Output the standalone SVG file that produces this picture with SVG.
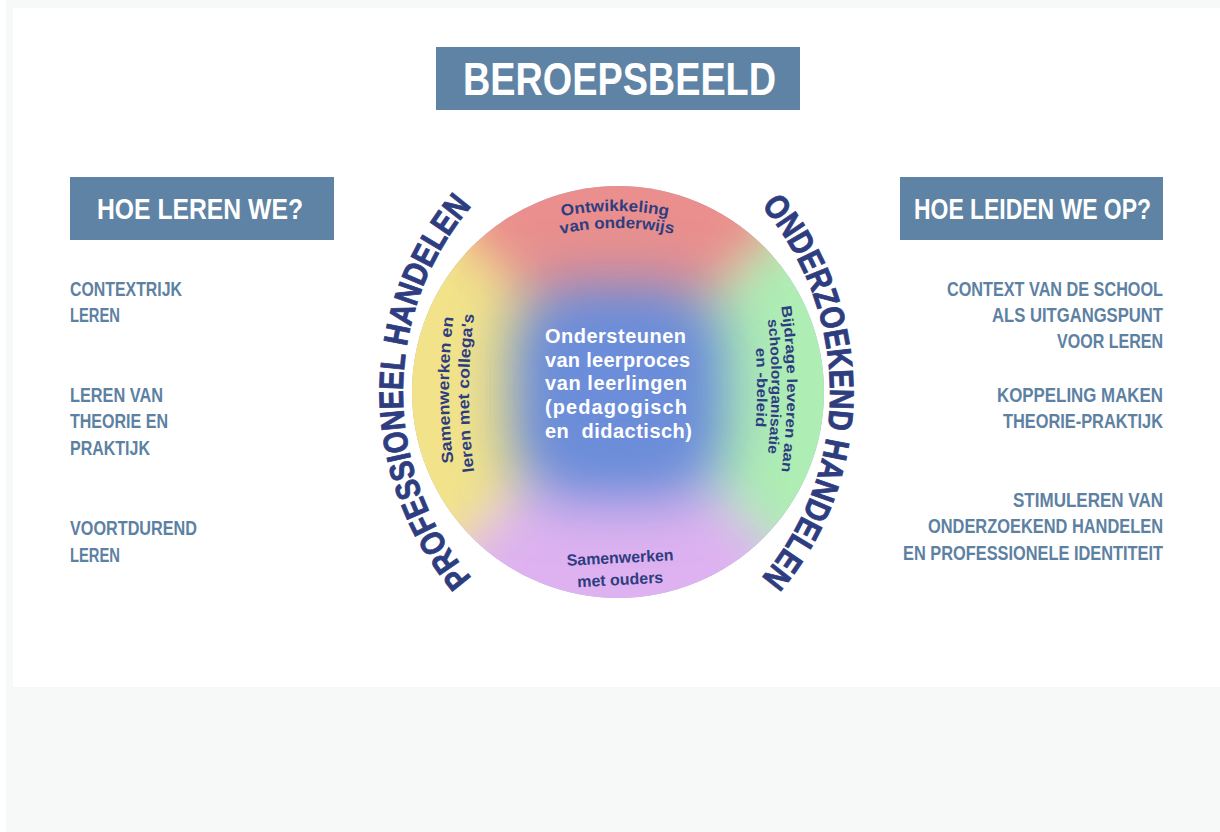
<svg xmlns="http://www.w3.org/2000/svg" xmlns:xlink="http://www.w3.org/1999/xlink" width="1220" height="832" viewBox="0 0 1220 832">
<style>
.f{font-family:"Liberation Sans",Arial,sans-serif;font-weight:700}
.hdr{fill:#ffffff}
.box{fill:#5f83a4}
.item{fill:#5d81a2;font-size:19.5px}
.navy{fill:#2e3d80}
.lbl{font-size:16px}
.lbs{font-size:14.5px}
.arc{font-size:34px;stroke:#2e3d80;stroke-width:0.9px}
.ctr{fill:#ffffff;font-size:20px}
</style>
<defs>
<clipPath id="cc"><circle cx="618" cy="392" r="206"/></clipPath>
<filter id="soft" x="-50%" y="-50%" width="200%" height="200%"><feGaussianBlur stdDeviation="24"/></filter>
<filter id="softer" x="-80%" y="-80%" width="260%" height="260%"><feGaussianBlur stdDeviation="30"/></filter>
<path id="pl" d="M 505.2 611.1 A 286 286 0 0 1 505.2 172.9"/>
<path id="pr" d="M 727.8 172.9 A 286 286 0 0 1 727.8 611.1"/>
<path id="t1" d="M 522.7 227.3 A 270 270 0 0 1 707.3 227.3"/>
<path id="t2" d="M 524.7 244.3 A 270 270 0 0 1 709.3 244.3"/>
<path id="l1" d="M 462.1 514.7 A 600 600 0 0 1 462.1 265.3"/>
<path id="l2" d="M 482.1 517.7 A 600 600 0 0 1 482.1 268.3"/>
<path id="r1" d="M 773.9 264.3 A 600 600 0 0 1 773.9 513.7"/>
<path id="r2" d="M 758.4 261.8 A 600 600 0 0 1 758.4 511.2"/>
<path id="r3" d="M 743.9 262.8 A 600 600 0 0 1 743.9 512.2"/>
</defs>

<g id="background">
<rect x="0" y="0" width="1220" height="832" fill="#ffffff"/>
<rect x="6" y="0" width="1214" height="832" fill="#f7f9f9"/>
<rect x="13" y="8" width="1207" height="679" fill="#ffffff"/>
</g>

<g id="connectors"/>

<g id="title">
<rect class="box" x="436" y="47" width="364" height="63"/>
<text class="f hdr" x="463" y="95" font-size="47" textLength="313" lengthAdjust="spacingAndGlyphs">BEROEPSBEELD</text>
</g>

<g id="hoe-leren">
<rect class="box" x="70" y="177" width="264" height="63"/>
<text class="f hdr" x="97" y="219" font-size="29" textLength="206" lengthAdjust="spacingAndGlyphs">HOE LEREN WE?</text>
</g>

<g id="hoe-leiden">
<rect class="box" x="900" y="177" width="263" height="63"/>
<text class="f hdr" x="914" y="219" font-size="29" textLength="237" lengthAdjust="spacingAndGlyphs">HOE LEIDEN WE OP?</text>
</g>

<g id="list-left" class="f item">
<g id="item-contextrijk">
<text x="70" y="296" textLength="112" lengthAdjust="spacingAndGlyphs">CONTEXTRIJK</text>
<text x="70" y="322" textLength="50" lengthAdjust="spacingAndGlyphs">LEREN</text>
</g>
<g id="item-theorie">
<text x="70" y="402" textLength="93" lengthAdjust="spacingAndGlyphs">LEREN VAN</text>
<text x="70" y="428" textLength="98" lengthAdjust="spacingAndGlyphs">THEORIE EN</text>
<text x="70" y="455" textLength="80" lengthAdjust="spacingAndGlyphs">PRAKTIJK</text>
</g>
<g id="item-voortdurend">
<text x="70" y="535" textLength="127" lengthAdjust="spacingAndGlyphs">VOORTDUREND</text>
<text x="70" y="562" textLength="50" lengthAdjust="spacingAndGlyphs">LEREN</text>
</g>
</g>

<g id="list-right" class="f item" text-anchor="end">
<g id="item-context">
<text x="1163" y="296" textLength="216" lengthAdjust="spacingAndGlyphs">CONTEXT VAN DE SCHOOL</text>
<text x="1163" y="322" textLength="171" lengthAdjust="spacingAndGlyphs">ALS UITGANGSPUNT</text>
<text x="1163" y="348" textLength="106" lengthAdjust="spacingAndGlyphs">VOOR LEREN</text>
</g>
<g id="item-koppeling">
<text x="1163" y="402" textLength="166" lengthAdjust="spacingAndGlyphs">KOPPELING MAKEN</text>
<text x="1163" y="428" textLength="160" lengthAdjust="spacingAndGlyphs">THEORIE-PRAKTIJK</text>
</g>
<g id="item-stimuleren">
<text x="1163" y="507" textLength="150" lengthAdjust="spacingAndGlyphs">STIMULEREN VAN</text>
<text x="1163" y="533" textLength="235" lengthAdjust="spacingAndGlyphs">ONDERZOEKEND HANDELEN</text>
<text x="1163" y="560" textLength="260" lengthAdjust="spacingAndGlyphs">EN PROFESSIONELE IDENTITEIT</text>
</g>
</g>

<g id="circle">
<g clip-path="url(#cc)">
<rect x="400" y="170" width="440" height="440" fill="#a9b0d8"/>
<g filter="url(#soft)">
<polygon points="618,392 318,92 918,92" fill="#ea8f8d"/>
<polygon points="618,392 918,92 918,692" fill="#aeedb4"/>
<polygon points="618,392 918,692 318,692" fill="#deb2f0"/>
<polygon points="618,392 318,692 318,92" fill="#f2e38a"/>
</g>
<rect x="513" y="287" width="210" height="210" rx="55" fill="#6c8dd9" filter="url(#softer)"/>
<rect x="543" y="317" width="150" height="150" rx="40" fill="#6c8dd9" filter="url(#soft)"/>
</g>
</g>

<g id="professioneel-handelen" class="f navy arc">
<text><textPath xlink:href="#pl" href="#pl" startOffset="50%" text-anchor="middle" textLength="405" lengthAdjust="spacingAndGlyphs">PROFESSIONEEL HANDELEN</textPath></text>
</g>

<g id="onderzoekend-handelen" class="f navy arc">
<text><textPath xlink:href="#pr" href="#pr" startOffset="50%" text-anchor="middle" textLength="405" lengthAdjust="spacingAndGlyphs">ONDERZOEKEND HANDELEN</textPath></text>
</g>

<g id="ontwikkeling" class="f navy lbl">
<text><textPath href="#t1" xlink:href="#t1" startOffset="50%" text-anchor="middle" textLength="107" lengthAdjust="spacingAndGlyphs">Ontwikkeling</textPath></text>
<text><textPath href="#t2" xlink:href="#t2" startOffset="50%" text-anchor="middle" textLength="113" lengthAdjust="spacingAndGlyphs">van onderwijs</textPath></text>
</g>

<g id="samenwerken-collegas" class="f navy lbl">
<text><textPath href="#l1" xlink:href="#l1" startOffset="50%" text-anchor="middle" textLength="146" lengthAdjust="spacingAndGlyphs">Samenwerken en</textPath></text>
<text><textPath href="#l2" xlink:href="#l2" startOffset="50%" text-anchor="middle" textLength="158" lengthAdjust="spacingAndGlyphs">leren met collega's</textPath></text>
</g>

<g id="bijdrage" class="f navy lbs">
<text><textPath href="#r1" xlink:href="#r1" startOffset="50%" text-anchor="middle" textLength="166" lengthAdjust="spacingAndGlyphs">Bijdrage leveren aan</textPath></text>
<text><textPath href="#r2" xlink:href="#r2" startOffset="50%" text-anchor="middle" textLength="134" lengthAdjust="spacingAndGlyphs">schoolorganisatie</textPath></text>
<text><textPath href="#r3" xlink:href="#r3" startOffset="50%" text-anchor="middle" textLength="79" lengthAdjust="spacingAndGlyphs">en -beleid</textPath></text>
</g>

<g id="samenwerken-ouders" class="f navy lbl" text-anchor="middle" transform="rotate(-3 621 575)">
<text x="621" y="563" textLength="107" lengthAdjust="spacingAndGlyphs">Samenwerken</text>
<text x="620" y="585" textLength="86" lengthAdjust="spacingAndGlyphs">met ouders</text>
</g>

<g id="ondersteunen" class="f ctr">
<text x="545" y="343" textLength="141" lengthAdjust="spacing">Ondersteunen</text>
<text x="545" y="367" textLength="145" lengthAdjust="spacing">van leerproces</text>
<text x="545" y="390" textLength="142" lengthAdjust="spacing">van leerlingen</text>
<text x="545" y="414" textLength="142" lengthAdjust="spacing">(pedagogisch</text>
<text x="545" y="438" textLength="147" lengthAdjust="spacing" style="white-space:pre">en  didactisch)</text>
</g>
</svg>
